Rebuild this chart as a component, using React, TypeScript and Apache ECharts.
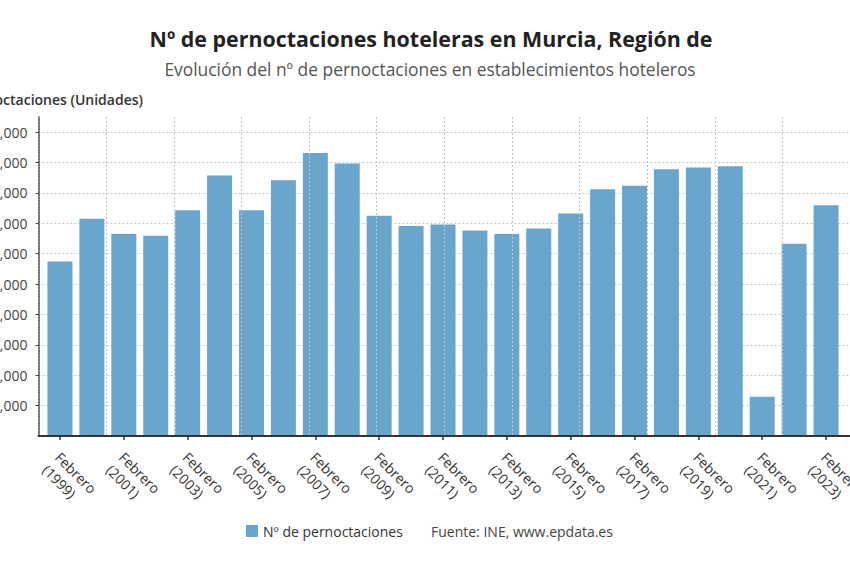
import { useEffect, useRef } from 'react';
import * as echarts from 'echarts';

const years = [
  '1999', '2000', '2001', '2002', '2003', '2004', '2005', '2006', '2007', '2008',
  '2009', '2010', '2011', '2012', '2013', '2014', '2015', '2016', '2017', '2018',
  '2019', '2020', '2021', '2022', '2023',
];
const values = [
  287000, 357500, 332500, 329700, 371700, 428800, 371700, 420700, 465700, 448400,
  362400, 345500, 348200, 338400, 332500, 341600, 366100, 406000, 411800, 439100,
  441900, 444000, 64700, 316600, 379800,
];
const categories = years.map((y) => `Febrero\n(${y})`);

const seriesName = 'Nº de pernoctaciones';
const titleText = 'Nº de pernoctaciones hoteleras en Murcia, Región de';
const subtitleText = 'Evolución del nº de pernoctaciones en establecimientos hoteleros';
const yAxisName = 'Nº de pernoctaciones (Unidades)';
const sourceText = 'Fuente: INE, www.epdata.es';

const Y_MAX = 525000;
const Y_STEP = 50000;
const FONT = "'Open Sans', 'Noto Sans', sans-serif";

export default function App() {
  const ref = useRef<HTMLDivElement>(null);

  useEffect(() => {
    if (!ref.current) return;
    const chart = echarts.init(ref.current, undefined, { renderer: 'svg' });
    chart.setOption({
      animation: false,
      backgroundColor: '#ffffff',
      textStyle: { fontFamily: FONT },
      grid: [
        { left: 44, right: 8, top: 117, bottom: 130, containLabel: false, outerBoundsMode: 'none' },
        { left: 38.5, right: 0, top: 117, bottom: 130, containLabel: false, outerBoundsMode: 'none' },
      ],
      legend: {
        data: [seriesName],
        left: 241,
        top: 519,
        icon: 'rect',
        itemWidth: 12,
        itemHeight: 12,
        textStyle: { fontFamily: FONT, fontSize: 14, color: '#333' },
      },
      xAxis: [
        {
          type: 'category',
          gridIndex: 0,
          data: categories,
          axisLine: { show: false },
          axisTick: {
            show: true,
            alignWithLabel: true,
            interval: 1,
            length: 4,
            lineStyle: { color: '#333', width: 1.5 },
          },
          axisLabel: {
            interval: 1,
            rotate: -45,
            align: 'left',
            verticalAlign: 'top',
            fontFamily: FONT,
            fontSize: 14,
            color: '#333',
            margin: 8,
            lineHeight: 18,
            padding: [0, 0, 0, 6],
          },
          splitLine: { show: false },
        },
        {
          type: 'value',
          gridIndex: 1,
          min: 0,
          max: 12,
          interval: 1,
          z: 5,
          axisLine: { show: true, lineStyle: { color: '#333', width: 2 } },
          axisTick: { show: false },
          axisLabel: { show: false },
          splitLine: {
            show: true,
            showMinLine: false,
            showMaxLine: false,
            lineStyle: { color: '#c4c4c4', type: [2, 2], width: 1 },
          },
        },
      ],
      yAxis: [
        {
          type: 'value',
          gridIndex: 0,
          min: 0,
          max: Y_MAX,
          show: false,
        },
        {
          type: 'value',
          gridIndex: 1,
          min: 0,
          max: Y_MAX,
          interval: Y_STEP,
          axisLine: { show: true, lineStyle: { color: '#444', width: 1.5, type: [2, 1] } },
          axisTick: { show: true, length: 3, lineStyle: { color: '#444' } },
          axisLabel: {
            showMaxLabel: false,
            showMinLabel: false,
            margin: 11,
            fontFamily: FONT,
            fontSize: 14,
            color: '#444',
            formatter: (v: number) => v.toLocaleString('en-US'),
          },
          splitLine: {
            show: true,
            showMinLine: false,
            showMaxLine: false,
            lineStyle: { color: '#c4c4c4', type: [2, 2], width: 1 },
          },
        },
      ],
      series: [
        {
          name: seriesName,
          type: 'bar',
          xAxisIndex: 0,
          yAxisIndex: 0,
          data: values,
          barWidth: 25,
          itemStyle: { color: '#6aa6cc' },
        },
      ],
      graphic: [
        {
          type: 'text',
          x: 431,
          y: 38,
          style: {
            text: titleText,
            fontFamily: FONT,
            fontSize: 21.4,
            fontWeight: 'bold',
            fill: '#222',
            align: 'center',
            verticalAlign: 'middle',
          },
        },
        {
          type: 'text',
          x: 430,
          y: 69,
          style: {
            text: subtitleText,
            fontFamily: FONT,
            fontSize: 17.4,
            fill: '#555',
            align: 'center',
            verticalAlign: 'middle',
          },
        },
        {
          type: 'text',
          x: 143,
          y: 99,
          style: {
            text: yAxisName,
            fontFamily: FONT,
            fontSize: 14,
            fontWeight: 600,
            fill: '#333',
            align: 'right',
            verticalAlign: 'middle',
          },
        },
        {
          type: 'text',
          x: 431,
          y: 531,
          style: {
            text: sourceText,
            fontFamily: FONT,
            fontSize: 14,
            fill: '#444',
            align: 'left',
            verticalAlign: 'middle',
          },
        },
      ],
    });
    return () => chart.dispose();
  }, []);

  return (
    <div
      style={{
        position: 'fixed',
        left: 0,
        top: 0,
        width: 850,
        height: 566,
        overflow: 'hidden',
        background: '#fff',
      }}
    >
      <div ref={ref} style={{ width: 850, height: 566 }} />
    </div>
  );
}
